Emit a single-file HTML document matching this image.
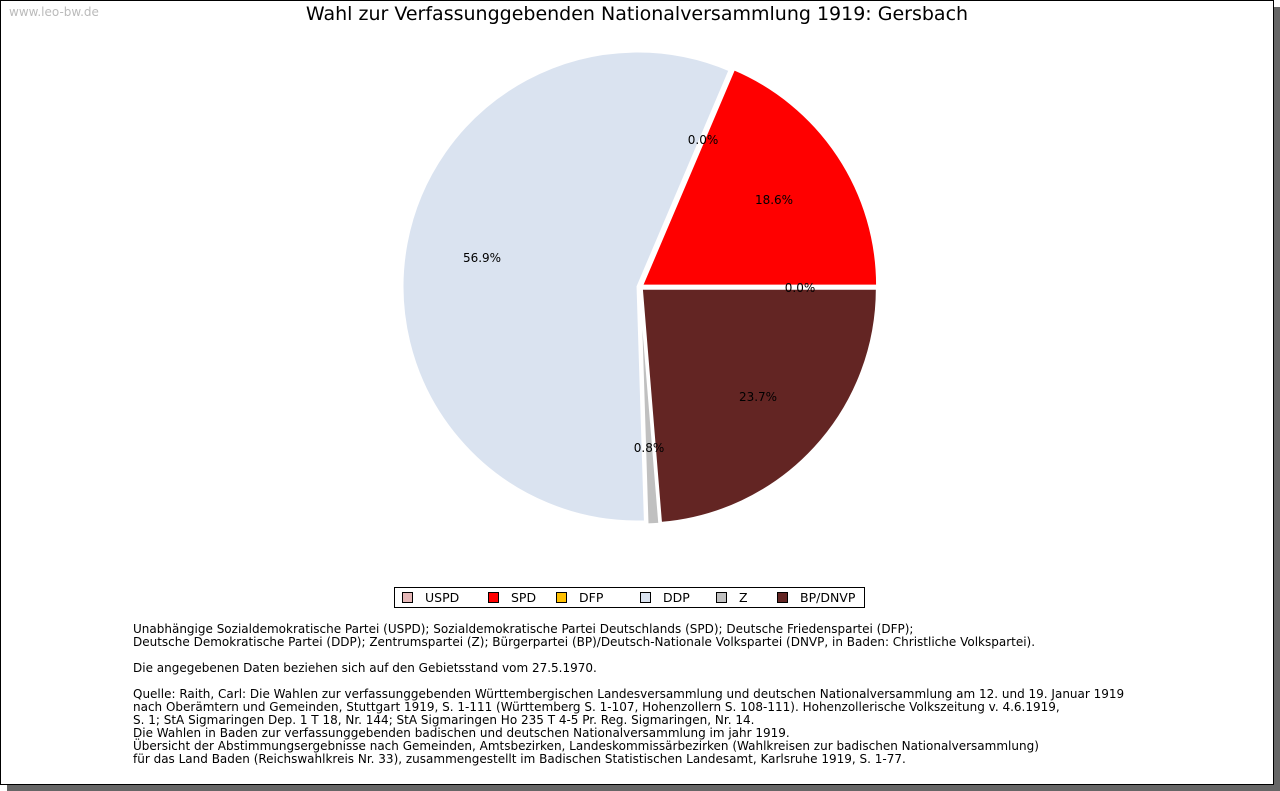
<!DOCTYPE html>
<html><head><meta charset="utf-8"><style>
body{margin:0;width:1280px;height:791px;background:#fff;position:relative;overflow:hidden;font-family:"DejaVu Sans","Liberation Sans",sans-serif}
#shadow{position:absolute;left:7px;top:7px;width:1273px;height:784px;background:#666}
#frame{position:absolute;left:0;top:0;width:1272px;height:783px;border:1px solid #000;background:#fff}
#wm{position:absolute;left:9px;top:5px;font-size:12px;color:#bbb}
#title{position:absolute;left:0;width:1274px;top:3px;text-align:center;font-size:19px;color:#000}
#notes{position:absolute;left:133px;top:623px;font-size:12px;line-height:13px;color:#000;white-space:pre}
</style></head><body>
<div id="shadow"></div>
<div id="frame"></div>
<div id="wm">www.leo-bw.de</div>
<div id="title">Wahl zur Verfassunggebenden Nationalversammlung 1919: Gersbach</div>
<svg id="pie" width="1280" height="791" style="position:absolute;left:0;top:0"></svg>
<div id="notes">Unabhängige Sozialdemokratische Partei (USPD); Sozialdemokratische Partei Deutschlands (SPD); Deutsche Friedenspartei (DFP);
Deutsche Demokratische Partei (DDP); Zentrumspartei (Z); Bürgerpartei (BP)/Deutsch-Nationale Volkspartei (DNVP, in Baden: Christliche Volkspartei).

Die angegebenen Daten beziehen sich auf den Gebietsstand vom 27.5.1970.

Quelle: Raith, Carl: Die Wahlen zur verfassunggebenden Württembergischen Landesversammlung und deutschen Nationalversammlung am 12. und 19. Januar 1919
nach Oberämtern und Gemeinden, Stuttgart 1919, S. 1-111 (Württemberg S. 1-107, Hohenzollern S. 108-111). Hohenzollerische Volkszeitung v. 4.6.1919,
S. 1; StA Sigmaringen Dep. 1 T 18, Nr. 144; StA Sigmaringen Ho 235 T 4-5 Pr. Reg. Sigmaringen, Nr. 14.
Die Wahlen in Baden zur verfassunggebenden badischen und deutschen Nationalversammlung im jahr 1919.
Übersicht der Abstimmungsergebnisse nach Gemeinden, Amtsbezirken, Landeskommissärbezirken (Wahlkreisen zur badischen Nationalversammlung)
für das Land Baden (Reichswahlkreis Nr. 33), zusammengestellt im Badischen Statistischen Landesamt, Karlsruhe 1919, S. 1-77.</div>
<script>
const categories=["USPD","SPD","DFP","DDP","Z","BP/DNVP"];
const values=[0.0,18.6,0.0,56.9,0.8,23.7];
const colors=["#e6b8b8","#ff0000","#ffc000","#dae3f0","#c0c0c0","#632523"];
const labelPos=[[800,288],[774,200],[703,140],[482,258],[649,448],[758,397]];
const NS="http://www.w3.org/2000/svg";
const svg=document.getElementById('pie');
const cx=640,cy=287,r=235,ex=2.5;
const total=values.reduce((a,b)=>a+b,0);
function ang(v){return v/total*2*Math.PI;}
let a0=0;
values.forEach((v,i)=>{
  const a1=a0+ang(v);
  const mid=(a0+a1)/2;
  const ox=cx+ex*Math.cos(mid), oy=cy-ex*Math.sin(mid);
  if(v>0){
    const p=document.createElementNS(NS,'path');
    const x0=ox+r*Math.cos(a0),y0=oy-r*Math.sin(a0),x1=ox+r*Math.cos(a1),y1=oy-r*Math.sin(a1);
    const large=(a1-a0)>Math.PI?1:0;
    p.setAttribute('d',`M${ox},${oy} L${x0},${y0} A${r},${r} 0 ${large} 0 ${x1},${y1} Z`);
    p.setAttribute('fill',colors[i]);p.setAttribute('stroke','#fff');p.setAttribute('stroke-width','2');
    
    
    svg.appendChild(p);
  }
  a0=a1;
});
values.forEach((v,i)=>{
  const t=document.createElementNS(NS,'text');
  t.setAttribute('x',labelPos[i][0]);t.setAttribute('y',labelPos[i][1]+4);
  t.setAttribute('text-anchor','middle');t.setAttribute('font-size','12');
  t.setAttribute('font-family','DejaVu Sans, sans-serif');
  t.textContent=v.toFixed(1)+'%';
  
  
  svg.appendChild(t);
});
const lg=document.createElementNS(NS,'rect');
lg.setAttribute('x',394.5);lg.setAttribute('y',587.5);lg.setAttribute('width',470);lg.setAttribute('height',20);
lg.setAttribute('fill','#fff');lg.setAttribute('stroke','#000');


svg.appendChild(lg);
const lx=[402,488,556,640,716,777];
categories.forEach((c,i)=>{
  const g=document.createElementNS(NS,'g');
  
  
  const s=document.createElementNS(NS,'rect');
  s.setAttribute('x',lx[i]+0.5);s.setAttribute('y',592.5);s.setAttribute('width',10);s.setAttribute('height',10);
  s.setAttribute('fill',colors[i]);s.setAttribute('stroke','#000');
  const t=document.createElementNS(NS,'text');
  t.setAttribute('x',lx[i]+23);t.setAttribute('y',602);t.setAttribute('font-size','12.5');
  t.setAttribute('font-family','DejaVu Sans, sans-serif');t.textContent=c;
  g.appendChild(s);g.appendChild(t);svg.appendChild(g);
});
</script>
</body></html>
